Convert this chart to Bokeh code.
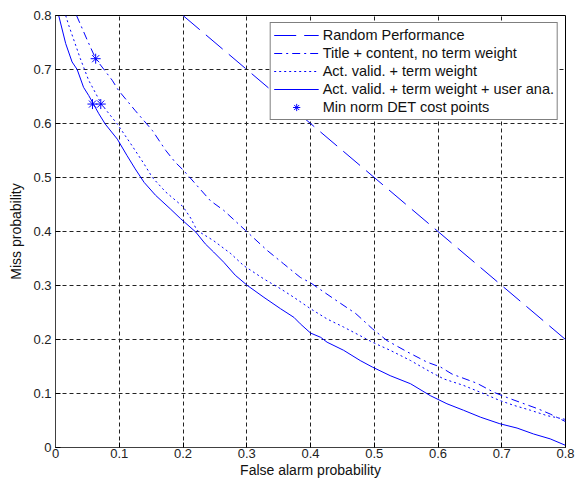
from bokeh.plotting import figure
from bokeh.models import FixedTicker, Legend, LegendItem, Range1d
from bokeh.embed import file_html
from bokeh.resources import INLINE

# ---- data ----
tick_vals = [0, 0.1, 0.2, 0.3, 0.4, 0.5, 0.6, 0.7, 0.8]
tick_labels = ["0", "0.1", "0.2", "0.3", "0.4", "0.5", "0.6", "0.7", "0.8"]

random_x = [0.2, 0.8]
random_y = [0.8, 0.2]

title_x = [0.033, 0.050, 0.063, 0.089, 0.099, 0.125, 0.152, 0.173, 0.188, 0.201,
           0.243, 0.264, 0.298, 0.332, 0.358, 0.384, 0.400, 0.437, 0.471, 0.497,
           0.520, 0.552, 0.583, 0.604, 0.622, 0.661, 0.688, 0.714, 0.735, 0.756,
           0.776, 0.800]
title_y = [0.800, 0.754, 0.720, 0.680, 0.661, 0.624, 0.587, 0.550, 0.528, 0.513,
           0.457, 0.439, 0.402, 0.365, 0.340, 0.315, 0.305, 0.275, 0.248, 0.220,
           0.198, 0.177, 0.158, 0.149, 0.136, 0.119, 0.102, 0.090, 0.081, 0.072,
           0.062, 0.048]

act_x = [0.016, 0.021, 0.039, 0.052, 0.058, 0.072, 0.084, 0.097, 0.120, 0.139,
         0.152, 0.173, 0.200, 0.212, 0.222, 0.248, 0.275, 0.295, 0.327, 0.353,
         0.374, 0.400, 0.426, 0.452, 0.478, 0.497, 0.525, 0.557, 0.588, 0.609,
         0.640, 0.667, 0.697, 0.719, 0.745, 0.771, 0.800]
act_y = [0.800, 0.781, 0.720, 0.680, 0.667, 0.636, 0.618, 0.599, 0.559, 0.525,
         0.500, 0.473, 0.446, 0.425, 0.402, 0.383, 0.359, 0.337, 0.312, 0.294,
         0.278, 0.257, 0.238, 0.223, 0.207, 0.195, 0.180, 0.161, 0.140, 0.127,
         0.115, 0.102, 0.087, 0.078, 0.069, 0.059, 0.052]

user_x = [0.005, 0.016, 0.026, 0.034, 0.044, 0.052, 0.068, 0.078, 0.097, 0.112,
          0.125, 0.139, 0.157, 0.180, 0.196, 0.220, 0.235, 0.248, 0.264, 0.282,
          0.301, 0.327, 0.353, 0.374, 0.384, 0.400, 0.416, 0.426, 0.452, 0.478,
          0.497, 0.525, 0.557, 0.588, 0.614, 0.640, 0.667, 0.697, 0.724, 0.750,
          0.776, 0.800]
user_y = [0.800, 0.748, 0.714, 0.700, 0.667, 0.652, 0.618, 0.599, 0.571, 0.541,
          0.516, 0.491, 0.467, 0.442, 0.424, 0.399, 0.377, 0.362, 0.343, 0.319,
          0.300, 0.278, 0.257, 0.241, 0.229, 0.212, 0.204, 0.195, 0.180, 0.161,
          0.149, 0.133, 0.118, 0.096, 0.081, 0.069, 0.056, 0.044, 0.036, 0.025,
          0.016, 0.004]

cost_x = [0.058, 0.071, 0.063]
cost_y = [0.636, 0.636, 0.720]

series_labels = ["Random Performance",
                 "Title + content, no term weight",
                 "Act. valid. + term weight",
                 "Act. valid. + term weight + user ana.",
                 "Min norm DET cost points"]

BLUE = "#0000FF"
FONT = "Liberation Sans"

p = figure(frame_width=510, frame_height=432,
           min_border_left=55, min_border_right=10, min_border_top=15, min_border_bottom=0,
           x_range=Range1d(0, 0.8), y_range=Range1d(0, 0.8),
           output_backend="svg", toolbar_location=None,
           background_fill_color="white", border_fill_color="white")

p.outline_line_color = "black"
p.outline_line_width = 1

overrides = dict(zip(tick_vals, tick_labels))
for ax in (p.xaxis[0], p.yaxis[0]):
    ax.ticker = FixedTicker(ticks=tick_vals)
    ax.major_label_overrides = overrides
    ax.minor_tick_line_color = None
    ax.major_tick_in = 5
    ax.major_tick_out = 0
    ax.major_tick_line_color = "black"
    ax.axis_line_color = "#404040"
    ax.axis_line_width = 1
    ax.major_label_text_font = FONT
    ax.major_label_text_font_size = "13px"
    ax.major_label_text_color = "#222222"
    ax.axis_label_text_font = FONT
    ax.axis_label_text_font_size = "14px"
    ax.axis_label_text_font_style = "normal"
    ax.axis_label_text_color = "#111111"

p.xaxis.axis_label = "False alarm probability"
p.yaxis.axis_label = "Miss probability"
p.xaxis.major_label_standoff = 1
p.xaxis.axis_label_standoff = 1
p.yaxis.major_label_standoff = 4
p.yaxis.axis_label_standoff = 6

for g in (p.xgrid[0], p.ygrid[0]):
    g.ticker = FixedTicker(ticks=tick_vals)
    g.grid_line_color = "#222222"
    g.grid_line_dash = "4 3"
    g.grid_line_width = 1

r_rand = p.line(random_x, random_y, line_color=BLUE, line_width=1, line_dash="22 8")
r_title = p.line(title_x, title_y, line_color=BLUE, line_width=1, line_dash="8 4 2 4")
r_act = p.line(act_x, act_y, line_color=BLUE, line_width=1, line_dash="2 3")
r_user = p.line(user_x, user_y, line_color=BLUE, line_width=1)
r_cost = p.scatter(cost_x, cost_y, marker="asterisk", size=10, line_color=BLUE, line_width=1)

legend = Legend(items=[LegendItem(label=lab, renderers=[r])
                       for lab, r in zip(series_labels, [r_rand, r_title, r_act, r_user, r_cost])],
                location="top_right", margin=7, padding=3, spacing=0,
                label_height=18, glyph_height=18, glyph_width=45, label_standoff=4,
                label_text_font=FONT, label_text_font_size="14.5px", label_text_color="#111111",
                border_line_color="black", border_line_width=1,
                background_fill_color="white", background_fill_alpha=1)
p.add_layout(legend)

open("out.html", "w").write(file_html(p, INLINE))
